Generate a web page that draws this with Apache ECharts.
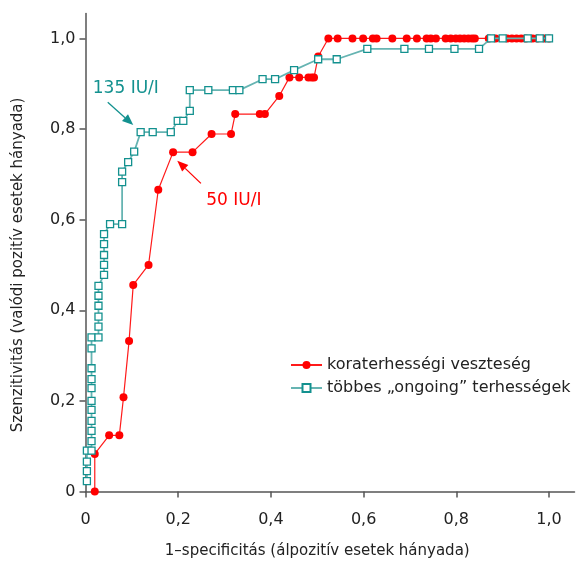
<!DOCTYPE html>
<html>
<head>
<meta charset="utf-8">
<script src="https://cdn.jsdelivr.net/npm/echarts@6/dist/echarts.min.js"></script>
<style>html,body{margin:0;padding:0;background:#fff}#c{width:579px;height:562px}</style>
</head>
<body>
<div id="c"></div>
<script>
const seriesNames = ['koraterhességi veszteség', 'többes \u201eongoing\u201d terhességek'];
const xTicks = [0, 0.2, 0.4, 0.6, 0.8, 1.0];
const yTicks = [0, 0.2, 0.4, 0.6, 0.8, 1.0];
const xTitle = '1\u2013specificitás (álpozitív esetek hányada)';
const yTitle = 'Szenzitivitás (valódi pozitív esetek hányada)';

const redPoints = [
  [0.02,0],[0.02,0.083],[0.051,0.124],[0.073,0.124],[0.082,0.208],[0.094,0.332],[0.103,0.456],
  [0.136,0.5],[0.157,0.666],[0.189,0.749],[0.231,0.749],[0.272,0.789],[0.314,0.789],[0.323,0.833],
  [0.376,0.833],[0.387,0.833],[0.418,0.873],[0.44,0.914],[0.461,0.914],[0.481,0.914],[0.488,0.914],
  [0.493,0.914],[0.502,0.96],[0.524,1],[0.544,1],[0.576,1],[0.599,1],[0.62,1],[0.628,1],[0.662,1],
  [0.693,1],[0.715,1],[0.736,1],[0.745,1],[0.756,1],[0.777,1],[0.788,1],[0.799,1],[0.808,1],
  [0.817,1],[0.826,1],[0.834,1],[0.84,1],[0.87,1],[0.885,1],[0.91,1],[0.92,1],[0.93,1],[0.94,1],
  [0.95,1],[0.965,1],[0.975,1],[0.99,1],[1,1]
];
const tealPoints = [
  [0.003,0.023],[0.003,0.045],[0.003,0.066],[0.003,0.09],[0.013,0.09],[0.013,0.111],[0.013,0.134],
  [0.013,0.156],[0.013,0.18],[0.013,0.2],[0.013,0.228],[0.013,0.248],[0.013,0.272],[0.013,0.316],
  [0.013,0.34],[0.028,0.34],[0.028,0.364],[0.028,0.386],[0.028,0.41],[0.028,0.432],[0.028,0.454],
  [0.04,0.478],[0.04,0.5],[0.04,0.522],[0.04,0.546],[0.04,0.568],[0.053,0.59],[0.079,0.59],
  [0.079,0.683],[0.079,0.706],[0.092,0.727],[0.105,0.75],[0.119,0.793],[0.145,0.793],[0.184,0.793],
  [0.199,0.818],[0.211,0.818],[0.225,0.84],[0.225,0.886],[0.265,0.886],[0.318,0.886],[0.332,0.886],
  [0.382,0.91],[0.409,0.91],[0.45,0.93],[0.502,0.954],[0.542,0.954],[0.608,0.977],[0.688,0.977],
  [0.741,0.977],[0.796,0.977],[0.849,0.977],[0.875,1],[0.9,1],[0.954,1],[0.98,1],[1,1]
];
// annotations: [text, textX, textY, arrowFromX, arrowFromY, arrowToX, arrowToY, colour]
const annotations = [
  ['135 IU/I', 0.087, 0.889, 0.048, 0.859, 0.103, 0.809, '#13918f'],
  ['50 IU/I', 0.32, 0.643, 0.249, 0.680, 0.198, 0.730, '#ff0000']
];

const FONT = 'DejaVu Sans';
const AX = '#555';
const fmt = v => v === 0 ? '0' : v.toFixed(1).replace('.', ',');

const chart = echarts.init(document.getElementById('c'), null, {renderer: 'canvas'});
const option = {
  animation: false,
  backgroundColor: '#fff',
  textStyle: {fontFamily: FONT},
  grid: {left: 85.5, right: 4.5, top: 13.5, bottom: 70.5, containLabel: false},
  legend: {
    orient: 'vertical', left: 285, top: 352, itemWidth: 31, itemHeight: 10, itemGap: 7,
    textStyle: {fontFamily: FONT, fontSize: 16, color: '#222'},
    data: seriesNames
  },
  xAxis: {
    type: 'value', min: 0, max: 1.055,
    axisLine: {show: true, lineStyle: {color: AX, width: 1.5}},
    axisTick: {show: true, length: 6, lineStyle: {color: AX, width: 1.5}, customValues: xTicks},
    axisLabel: {customValues: xTicks, formatter: fmt, margin: 20, fontSize: 16, color: '#222', fontFamily: FONT},
    splitLine: {show: false}
  },
  yAxis: {
    type: 'value', min: 0, max: 1.055,
    axisLine: {show: true, lineStyle: {color: AX, width: 1.5}},
    axisTick: {show: true, length: 6, lineStyle: {color: AX, width: 1.5}, customValues: yTicks},
    axisLabel: {customValues: yTicks, formatter: fmt, margin: 10, fontSize: 16, color: '#222', fontFamily: FONT},
    splitLine: {show: false}
  },
  series: [
    {
      name: seriesNames[0], type: 'line', data: redPoints, symbol: 'circle', symbolSize: 8,
      lineStyle: {color: '#ff1a1a', width: 1.2},
      itemStyle: {color: '#ff0000', borderWidth: 0},
      z: 2
    },
    {
      name: seriesNames[1], type: 'line', data: tealPoints, symbol: 'rect', symbolSize: 7,
      lineStyle: {color: '#66b4b2', width: 1.8},
      itemStyle: {color: '#ffffff', borderColor: '#13918f', borderWidth: 1.3},
      z: 3
    }
  ]
};
chart.setOption(option);

function buildGraphics() {
  const els = [];
  const p = (x, y) => chart.convertToPixel({gridIndex: 0}, [x, y]);
  annotations.forEach(a => {
    const [t, tx, ty, fx, fy, ex, ey, col] = a;
    const tp = p(tx, ty), f = p(fx, fy), e = p(ex, ey);
    els.push({type: 'text', x: tp[0], y: tp[1], style: {text: t, fill: col, font: '17px ' + FONT, align: 'center', verticalAlign: 'middle'}, z: 10});
    const ang = Math.atan2(e[1] - f[1], e[0] - f[0]);
    const L = 11, W = 4.5;
    const bx = e[0] - L * Math.cos(ang), by = e[1] - L * Math.sin(ang);
    els.push({type: 'line', shape: {x1: f[0], y1: f[1], x2: bx, y2: by}, style: {stroke: col, lineWidth: 1.3}, z: 10});
    els.push({type: 'polygon', shape: {points: [
      [e[0], e[1]],
      [bx + W * Math.sin(ang), by - W * Math.cos(ang)],
      [bx - W * Math.sin(ang), by + W * Math.cos(ang)]
    ]}, style: {fill: col}, z: 10});
  });
  const xc = p(0.5, 0);
  els.push({type: 'text', x: xc[0], y: 551, style: {text: xTitle, fill: '#222', font: '15px ' + FONT, align: 'center', verticalAlign: 'middle'}});
  const yc = p(0, 0.5);
  els.push({type: 'text', x: 18, y: yc[1], rotation: Math.PI / 2, style: {text: yTitle, fill: '#222', font: '15px ' + FONT, align: 'center', verticalAlign: 'middle'}});
  return els;
}
chart.setOption({graphic: buildGraphics()});
</script>
</body>
</html>
